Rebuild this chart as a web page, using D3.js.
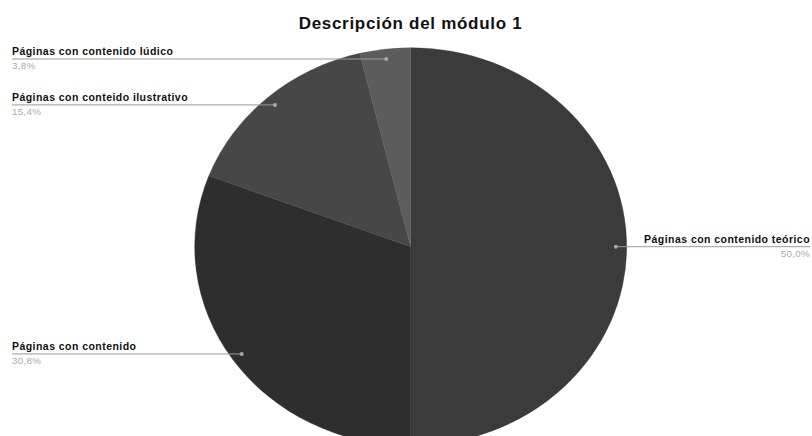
<!DOCTYPE html>
<html>
<head>
<meta charset="utf-8">
<script src="https://cdn.jsdelivr.net/npm/d3@7"></script>
<style>
  html, body { margin: 0; padding: 0; background: #fff; }
  svg { display: block; }
</style>
</head>
<body>
<svg id="chart" width="812" height="436"></svg>
<script>
const title = "Descripción del módulo 1";
const categories = [
  "Páginas con contenido teórico",
  "Páginas con contenido",
  "Páginas con conteido ilustrativo",
  "Páginas con contenido lúdico"
];
const values = [50.0, 30.8, 15.4, 3.8];
const colors = ["#3b3b3b", "#2e2e2e", "#474747", "#5c5c5c"];
const labelSide = ["right", "left", "left", "left"];

const W = 812, H = 436;
const cx = 410.7, cy = 246.7, rx = 216, ry = 199;
const svg = d3.select("#chart");

svg.append("text")
  .attr("x", 410.5).attr("y", 29)
  .attr("text-anchor", "middle")
  .attr("font-family", "Liberation Sans, Arial, sans-serif")
  .attr("font-weight", "bold")
  .attr("font-size", 17)
  .attr("letter-spacing", 0.7)
  .attr("fill", "#111")
  .text(title);

const data = categories.map((c, i) => ({ name: c, value: values[i], color: colors[i], side: labelSide[i] }));
const pie = d3.pie().sort(null).value(d => d.value);
const arcs = pie(data);
const arc = d3.arc().innerRadius(0).outerRadius(rx);
const dotArc = d3.arc().innerRadius(rx * 0.95).outerRadius(rx * 0.95);
const sy = ry / rx;

const g = svg.append("g").attr("transform", `translate(${cx},${cy}) scale(1,${sy})`);
g.selectAll("path").data(arcs).enter().append("path")
  .attr("d", arc)
  .attr("fill", d => d.data.color)
  .attr("stroke", d => d.data.color)
  .attr("stroke-width", 0.4);

const fmt = v => d3.format(".1f")(v).replace(".", ",") + "%";

arcs.forEach(a => {
  const c = dotArc.centroid(a);
  const px = cx + c[0], py = cy + c[1] * sy;
  const isLeft = a.data.side === "left";
  const x0 = isLeft ? 12 : px, x1 = isLeft ? px : 810;
  svg.append("line")
    .attr("x1", x0).attr("x2", x1).attr("y1", py).attr("y2", py)
    .attr("stroke", "#9a9a9a").attr("stroke-width", 1);
  svg.append("circle").attr("cx", px).attr("cy", py).attr("r", 2).attr("fill", "#aaa");
  svg.append("text")
    .attr("x", isLeft ? 12 : 810).attr("y", py - 4)
    .attr("text-anchor", isLeft ? "start" : "end")
    .attr("font-family", "Liberation Sans, Arial, sans-serif")
    .attr("font-weight", "bold").attr("font-size", 10.5).attr("letter-spacing", 0.45).attr("fill", "#111")
    .text(a.data.name);
  svg.append("text")
    .attr("x", isLeft ? 12 : 810).attr("y", py + 10.5)
    .attr("text-anchor", isLeft ? "start" : "end")
    .attr("font-family", "Liberation Sans, Arial, sans-serif")
    .attr("font-size", 9.8).attr("letter-spacing", 0.3).attr("fill", "#aaa")
    .text(fmt(a.data.value));
});
</script>
</body>
</html>
